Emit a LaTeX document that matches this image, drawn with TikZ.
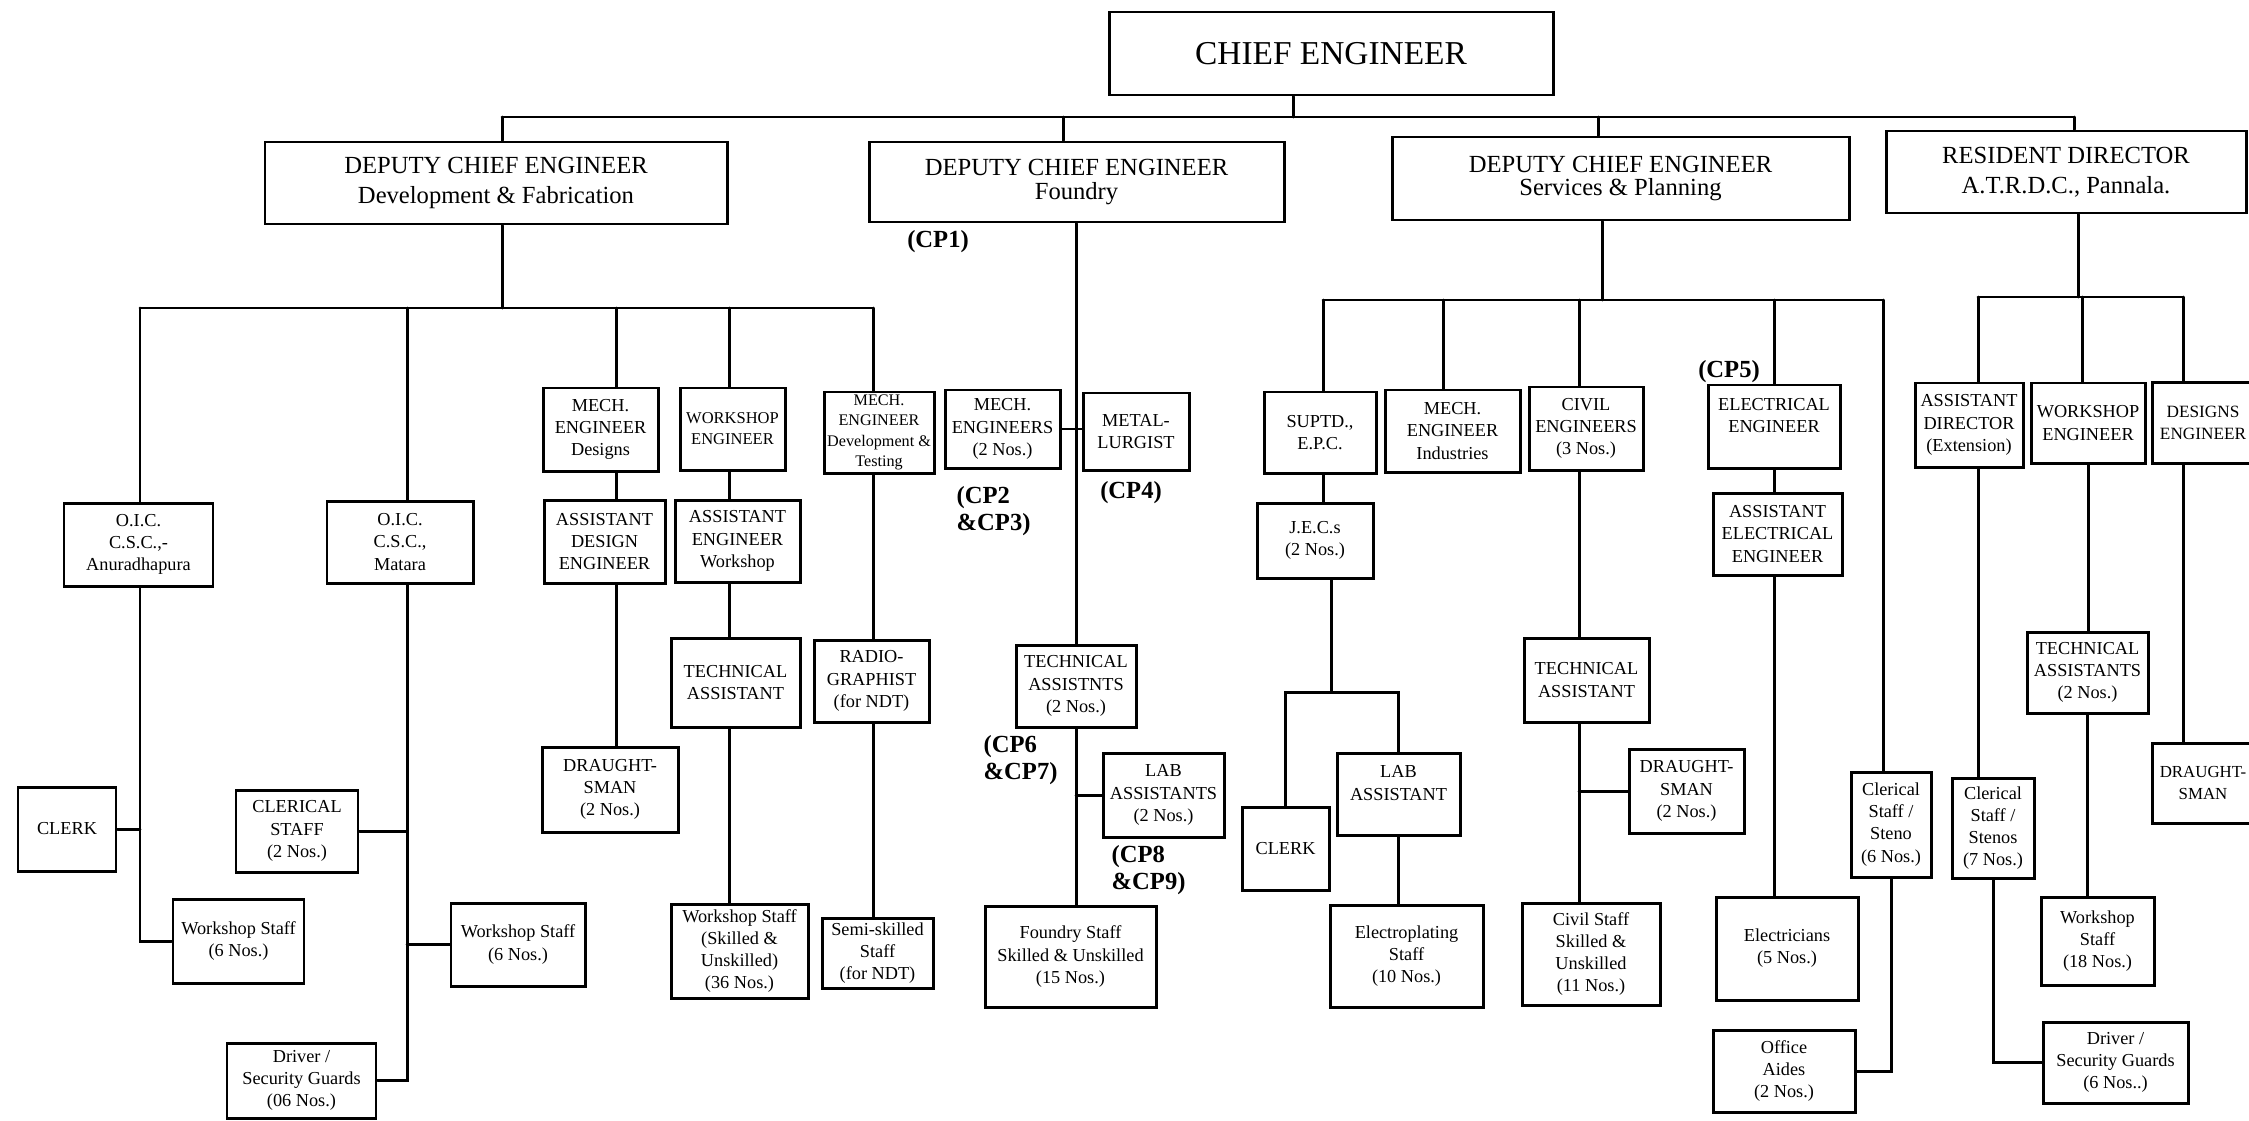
\documentclass[tikz,border=0pt]{standalone}
\usepackage{fontspec}
\setmainfont{Liberation Serif}

\tikzset{
  box/.style={draw, line width=0.85pt, align=center, inner sep=0pt,
    font=\fontsize{5.2}{6.3}\selectfont},
  big/.style={box, font=\fontsize{7}{8.4}\selectfont},
  sz/.style 2 args={minimum width=#1cm, minimum height=#2cm},
  link/.style={line width=0.85pt},
  cp/.style={font=\bfseries\fontsize{7}{7.6}\selectfont, inner sep=0pt, align=left},
}

\begin{document}
\begin{tikzpicture}[line cap=round]
\useasboundingbox (0,0) rectangle (22.49,-11.20);
\fill[white] (0,0) rectangle (22.49,-11.20);

% top of the chart
\node[big, sz={4.44}{0.83}, font=\fontsize{9.5}{11}\selectfont] (chief) at (13.31,-0.535) {CHIEF ENGINEER};
\node[big, sz={4.62}{0.82}] (dce1) at (4.96,-1.83) {DEPUTY CHIEF ENGINEER\\Development \& Fabrication};
\node[big, sz={4.15}{0.80}, font=\fontsize{7}{6.6}\selectfont] (dce2) at (10.765,-1.82) {DEPUTY CHIEF ENGINEER\\Foundry};
\node[big, sz={4.57}{0.83}, font=\fontsize{7}{6.6}\selectfont] (dce3) at (16.205,-1.785) {DEPUTY CHIEF ENGINEER\\Services \& Planning};
\node[big, sz={3.60}{0.82}] (rd) at (20.66,-1.72) {RESIDENT DIRECTOR\\A.T.R.D.C., Pannala.};

% development & fabrication
\node[box, sz={1.49}{0.83}] (oica) at (1.385,-5.445) {O.I.C.\\C.S.C.,-\\Anuradhapura};
\node[box, sz={1.46}{0.82}] (oicm) at (4.00,-5.42) {O.I.C.\\C.S.C.,\\Matara};
\node[box, sz={1.15}{0.83}] (mechd) at (6.005,-4.295) {MECH.\\ENGINEER\\Designs};
\node[box, sz={1.21}{0.83}] (asde) at (6.045,-5.415) {ASSISTANT\\DESIGN\\ENGINEER};
\node[box, sz={1.36}{0.85}] (dr1) at (6.10,-7.895) {DRAUGHT-\\SMAN\\(2 Nos.)};
\node[box, sz={1.05}{0.82}, font=\fontsize{4.7}{6.0}\selectfont] (wse) at (7.325,-4.29) {WORKSHOP\\ENGINEER};
\node[box, sz={1.25}{0.82}] (aew) at (7.375,-5.41) {ASSISTANT\\ENGINEER\\Workshop};
\node[box, sz={1.29}{0.89}] (ta1) at (7.355,-6.825) {TECHNICAL\\ASSISTANT};
\node[box, sz={1.37}{0.94}] (ws36) at (7.395,-9.51) {Workshop Staff\\(Skilled \&\\Unskilled)\\(36 Nos.)};
\node[box, sz={1.10}{0.81}, font=\fontsize{4.6}{5.8}\selectfont] (medt) at (8.79,-4.325) {MECH.\\ENGINEER\\Development \&\\Testing};
\node[box, sz={1.15}{0.82}] (radio) at (8.715,-6.81) {RADIO-\\GRAPHIST\\(for NDT)};
\node[box, sz={1.11}{0.70}] (semi) at (8.775,-9.53) {Semi-skilled\\Staff\\(for NDT)};
\node[box, sz={0.98}{0.84}] (clerk1) at (0.67,-8.29) {CLERK};
\node[box, sz={1.31}{0.84}] (ws6a) at (2.385,-9.41) {Workshop Staff\\(6 Nos.)};
\node[box, sz={1.22}{0.82}] (cler2) at (2.97,-8.31) {CLERICAL\\STAFF\\(2 Nos.)};
\node[box, sz={1.34}{0.83}] (ws6b) at (5.18,-9.445) {Workshop Staff\\(6 Nos.)};
\node[box, sz={1.49}{0.75}] (drv1) at (3.015,-10.805) {Driver /\\Security Guards\\(06 Nos.)};

% foundry
\node[box, sz={1.15}{0.78}] (mech2) at (10.025,-4.29) {MECH.\\ENGINEERS\\(2 Nos.)};
\node[box, sz={1.06}{0.77}] (metal) at (11.36,-4.315) {METAL-\\LURGIST};
\node[box, sz={1.20}{0.82}] (tech2) at (10.76,-6.86) {TECHNICAL\\ASSISTNTS\\(2 Nos.)};
\node[box, sz={1.21}{0.84}] (labs) at (11.635,-7.95) {LAB\\ASSISTANTS\\(2 Nos.)};
\node[box, sz={1.71}{1.01}] (foundry) at (10.705,-9.565) {Foundry Staff\\Skilled \& Unskilled\\(15 Nos.)};

% services & planning
\node[box, sz={1.12}{0.81}] (suptd) at (13.20,-4.325) {SUPTD.,\\E.P.C.};
\node[box, sz={1.16}{0.75}] (jec) at (13.15,-5.405) {J.E.C.s\\(2 Nos.)};
\node[box, sz={0.87}{0.83}] (clerk3) at (12.855,-8.485) {CLERK};
\node[box, sz={1.23}{0.82}] (lab) at (13.985,-7.94) {LAB\\ASSISTANT\\~};
\node[box, sz={1.53}{1.02}] (electro) at (14.065,-9.56) {Electroplating\\Staff\\(10 Nos.)};
\node[box, sz={1.35}{0.82}] (mechi) at (14.525,-4.31) {MECH.\\ENGINEER\\Industries};
\node[box, sz={1.14}{0.83}] (civil) at (15.86,-4.285) {CIVIL\\ENGINEERS\\(3 Nos.)};
\node[box, sz={1.25}{0.84}] (ta3) at (15.865,-6.80) {TECHNICAL\\ASSISTANT};
\node[box, sz={1.15}{0.84}] (dr2) at (16.865,-7.91) {DRAUGHT-\\SMAN\\(2 Nos.)};
\node[box, sz={1.38}{1.02}] (civst) at (15.91,-9.54) {Civil Staff\\Skilled \&\\Unskilled\\(11 Nos.)};
\node[box, sz={1.32}{0.83}] (elec) at (17.74,-4.265) {ELECTRICAL\\ENGINEER\\~};
\node[box, sz={1.29}{0.82}] (aee) at (17.775,-5.34) {ASSISTANT\\ELECTRICAL\\ENGINEER};
\node[box, sz={1.42}{1.03}] (elecns) at (17.87,-9.485) {Electricians\\(5 Nos.)};
\node[box, sz={1.42}{0.82}] (office) at (17.84,-10.71) {Office\\Aides\\(2 Nos.)};
\node[box, sz={0.80}{1.05}] (cs6) at (18.91,-8.245) {Clerical\\Staff /\\Steno\\(6 Nos.)};

% resident director
\node[box, sz={1.08}{0.84}] (asd) at (19.69,-4.25) {ASSISTANT\\DIRECTOR\\(Extension)};
\node[box, sz={1.14}{0.80}] (wse2) at (20.88,-4.23) {WORKSHOP\\ENGINEER};
\node[box, sz={1.02}{0.81}, font=\fontsize{4.9}{6.2}\selectfont] (deseng) at (22.03,-4.225) {DESIGNS\\ENGINEER};
\node[box, sz={1.21}{0.81}] (tas) at (20.875,-6.725) {TECHNICAL\\ASSISTANTS\\(2 Nos.)};
\node[box, sz={1.13}{0.88}] (ws18) at (20.975,-9.41) {Workshop\\Staff\\(18 Nos.)};
\node[box, sz={1.02}{0.80}, font=\fontsize{4.8}{6.2}\selectfont] (dr3) at (22.03,-7.83) {DRAUGHT-\\SMAN};
\node[box, sz={0.82}{1.00}] (cs7) at (19.93,-8.28) {Clerical\\Staff /\\Stenos\\(7 Nos.)};
\node[box, sz={1.45}{0.81}] (drv2) at (21.155,-10.625) {Driver /\\Security Guards\\(6 Nos..)};

% cadre references
\node[cp] (cp1) at (9.38,-2.42) {(CP1)};
\node[cp, anchor=west] (cp23) at (9.56,-5.11) {(CP2\\\&CP3)};
\node[cp] (cp4) at (11.31,-4.93) {(CP4)};
\node[cp] (cp5) at (17.29,-3.72) {(CP5)};
\node[cp, anchor=west] (cp67) at (9.83,-7.60) {(CP6\\\&CP7)};
\node[cp, anchor=west] (cp89) at (11.11,-8.70) {(CP8\\\&CP9)};

% top level lines
\coordinate (tc) at (12.93,-1.17);
\coordinate (t1) at (5.02,-1.17);
\coordinate (t2) at (10.63,-1.17);
\coordinate (t3) at (15.98,-1.17);
\coordinate (t4) at (20.74,-1.17);
\draw[link] (tc |- chief.south) -- (tc);
\draw[link] (t1) -- (t4);
\foreach \c/\n in {t1/dce1,t2/dce2,t3/dce3,t4/rd}
  \draw[link] (\c) -- (\c |- \n.north);

% development & fabrication lines
\coordinate (a1) at (1.40,-3.08);
\coordinate (a2) at (4.07,-3.08);
\coordinate (a3) at (6.16,-3.08);
\coordinate (a4) at (7.29,-3.08);
\coordinate (a5) at (8.73,-3.08);
\draw[link] (t1 |- dce1.south) -- (t1 |- a1);
\draw[link] (a1) -- (a5);
\foreach \c/\n in {a1/oica,a2/oicm,a3/mechd,a4/wse,a5/medt}
  \draw[link] (\c) -- (\c |- \n.north);
\draw[link] (a1 |- oica.south) |- (ws6a.west);
\draw[link] (clerk1.east) -- (clerk1.east -| a1);
\draw[link] (a2 |- oicm.south) |- (drv1.east);
\draw[link] (cler2.east) -- (cler2.east -| a2);
\draw[link] (ws6b.west) -- (ws6b.west -| a2);
\draw[link] (a3 |- mechd.south) -- (a3 |- asde.north);
\draw[link] (a3 |- asde.south) -- (a3 |- dr1.north);
\foreach \p/\q in {wse/aew,aew/ta1,ta1/ws36}
  \draw[link] (a4 |- \p.south) -- (a4 |- \q.north);
\foreach \p/\q in {medt/radio,radio/semi}
  \draw[link] (a5 |- \p.south) -- (a5 |- \q.north);

% foundry lines
\draw[link] (dce2.south) -- (dce2.south |- tech2.north);
\draw[link] (mech2.east) -- (mech2.east -| metal.west);
\draw[link] (tech2.south) -- (tech2.south |- foundry.north);
\draw[link] (labs.west) -- (labs.west -| tech2.south);

% services & planning lines
\coordinate (s0) at (16.02,-3.00);
\coordinate (s1) at (13.23,-3.00);
\coordinate (s2) at (14.43,-3.00);
\coordinate (s3) at (15.79,-3.00);
\coordinate (s4) at (17.74,-3.00);
\coordinate (s5) at (18.83,-3.00);
\coordinate (j0) at (13.31,-6.92);
\draw[link] (s0 |- dce3.south) -- (s0);
\draw[link] (s1) -- (s5);
\foreach \c/\n in {s1/suptd,s2/mechi,s3/civil,s4/elec,s5/cs6}
  \draw[link] (\c) -- (\c |- \n.north);
\draw[link] (s1 |- suptd.south) -- (s1 |- jec.north);
\draw[link] (j0 |- jec.south) -- (j0);
\draw[link] (clerk3.north) |- (j0) -| (lab.north);
\draw[link] (lab.south) -- (lab.south |- electro.north);
\draw[link] (s3 |- civil.south) -- (s3 |- ta3.north);
\draw[link] (s3 |- ta3.south) -- (s3 |- civst.north);
\draw[link] (dr2.west) -- (dr2.west -| s3);
\draw[link] (s4 |- elec.south) -- (s4 |- aee.north);
\draw[link] (s4 |- aee.south) -- (s4 |- elecns.north);
\draw[link] (cs6.south) |- (office.east);

% resident director lines
\coordinate (r0) at (20.78,-2.97);
\coordinate (r1) at (19.78,-2.97);
\coordinate (r2) at (20.82,-2.97);
\coordinate (r3) at (21.83,-2.97);
\draw[link] (r0 |- rd.south) -- (r0);
\draw[link] (r1) -- (r3);
\foreach \c/\n in {r1/asd,r2/wse2,r3/deseng}
  \draw[link] (\c) -- (\c |- \n.north);
\draw[link] (r1 |- asd.south) -- (r1 |- cs7.north);
\draw[link] (cs7.south) |- (drv2.west);
\draw[link] (wse2.south) -- (wse2.south |- tas.north);
\draw[link] (tas.south) -- (tas.south |- ws18.north);
\draw[link] (r3 |- deseng.south) -- (r3 |- dr3.north);
\end{tikzpicture}
\end{document}
